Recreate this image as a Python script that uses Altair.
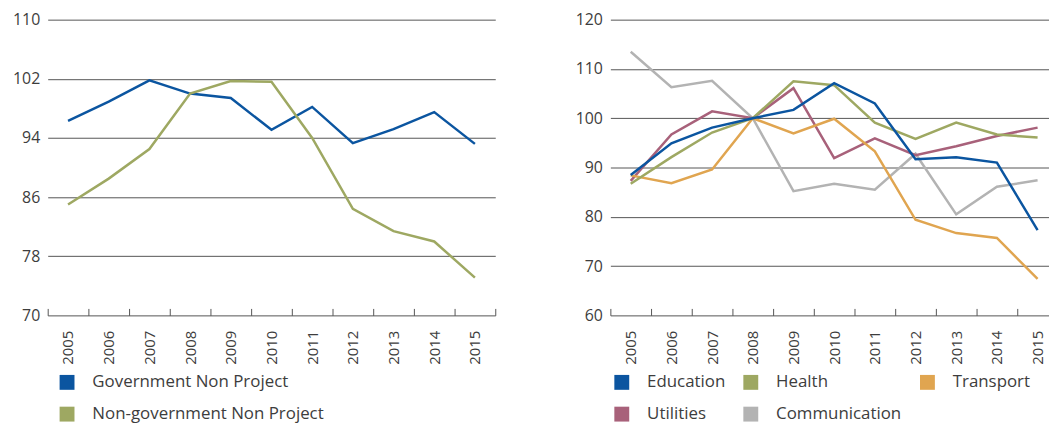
import altair as alt
import pandas as pd

years = list(range(2005, 2016))

# Left panel
gov = [96.3, 98.9, 101.8, 100.0, 99.4, 95.1, 98.2, 93.3, 95.2, 97.5, 93.2]
nongov = [85.0, 88.5, 92.5, 100.0, 101.7, 101.6, 94.0, 84.4, 81.4, 80.0, 75.1]
left_series = ["Government Non Project", "Non-government Non Project"]
left_colors = ["#0b55a0", "#9ea862"]
left_ticks = [70, 78, 86, 94, 102, 110]

# Right panel
education = [88.5, 94.9, 98.1, 100.0, 101.7, 107.1, 103.0, 91.7, 92.1, 91.0, 77.3]
health = [86.7, 92.1, 97.1, 100.0, 107.5, 106.7, 99.1, 95.8, 99.1, 96.7, 96.1]
transport = [88.4, 86.8, 89.6, 100.0, 96.9, 99.9, 93.3, 79.4, 76.7, 75.7, 67.4]
utilities = [87.3, 96.7, 101.4, 100.0, 106.1, 91.9, 95.9, 92.5, 94.3, 96.4, 98.1]
communication = [113.5, 106.3, 107.6, 100.0, 85.2, 86.7, 85.5, 92.8, 80.5, 86.1, 87.4]
right_series = ["Education", "Health", "Transport", "Utilities", "Communication"]
right_colors = ["#0b55a0", "#9ea862", "#e0a550", "#a8617a", "#b3b3b3"]
right_ticks = [60, 70, 80, 90, 100, 110, 120]

FONT = "Open Sans"
YEAR_FONT = "Liberation Sans Narrow, Open Sans"
TEXT = "#3d3d3d"
GRID = "#555555"


def long_df(pairs):
    rows = []
    for name, vals in pairs:
        for yr, v in zip(years, vals):
            rows.append({"year": yr, "value": v, "series": name})
    return pd.DataFrame(rows)


left_df = long_df([("Government Non Project", gov), ("Non-government Non Project", nongov)])
right_df = long_df([
    ("Communication", communication),
    ("Utilities", utilities),
    ("Transport", transport),
    ("Health", health),
    ("Education", education),
])


def panel(df, series, colors, ticks, columns, leg_x, col_pad):
    x = alt.X(
        "year:O",
        scale=alt.Scale(type="band", paddingInner=0, paddingOuter=0),
        axis=alt.Axis(
            title=None, labelAngle=270, tickBand="extent", domain=False, grid=False,
            ticks=True, tickSize=7, offset=-7, tickColor=GRID, tickWidth=1,
            labelPadding=15, labelFont=YEAR_FONT, labelFontSize=15, labelColor=TEXT,
        ),
    )
    y = alt.Y(
        "value:Q",
        scale=alt.Scale(domain=[ticks[0], ticks[-1]], nice=False, zero=False),
        axis=alt.Axis(
            title=None, values=ticks, grid=True, gridColor=GRID, gridWidth=1,
            domain=False, ticks=False, labelPadding=8, labelFont=FONT,
            labelFontSize=16, labelColor=TEXT,
        ),
    )
    lines = alt.Chart(df).mark_line(strokeWidth=2.5).encode(
        x=x, y=y,
        color=alt.Color(
            "series:N",
            scale=alt.Scale(domain=series, range=colors),
            legend=alt.Legend(
                title=None, orient="none", legendX=leg_x, legendY=357,
                direction="horizontal", columns=columns, gridAlign="none",
                symbolType="square", symbolSize=56.25, symbolStrokeWidth=7.5,
                symbolOpacity=1,
                labelFont=FONT, labelFontSize=17, labelColor=TEXT, labelLimit=400,
                labelOffset=17, rowPadding=-7, columnPadding=col_pad,
            ),
        ),
    )
    return lines.properties(width=451, height=298)


left = panel(left_df, left_series, left_colors, left_ticks, 1, 11, 26)
right = panel(right_df, right_series, right_colors, right_ticks, 3, 3, 6)

chart = (
    alt.hconcat(left, right, spacing=79)
    .resolve_scale(color="independent", y="independent")
    .resolve_legend(color="independent")
    .properties(
        autosize=alt.AutoSizeParams(type="none"),
        padding={"left": 40, "top": 9, "right": 1009, "bottom": 407},
    )
    .configure_view(stroke=None)
    .configure_legend(gridAlign="none")
)

chart.save("out.html", embed_options={"renderer": "svg", "actions": False})
